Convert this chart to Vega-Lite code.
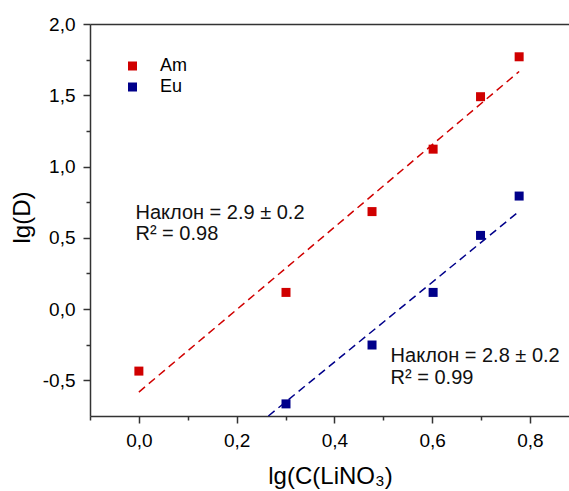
{
  "$schema": "https://vega.github.io/schema/vega-lite/v6.json",
  "width": 479,
  "height": 392,
  "autosize": {"type": "none"},
  "padding": {"left": 90, "top": 24, "right": 0, "bottom": 75},
  "config": {
    "view": {"stroke": null},
    "font": "Liberation Sans",
    "axis": {
      "grid": false,
      "domainColor": "#333333",
      "tickColor": "#333333",
      "domainWidth": 1.5,
      "tickWidth": 1.5,
      "labelFont": "Liberation Sans",
      "labelFontSize": 19,
      "labelColor": "#000000",
      "titleFont": "Liberation Sans",
      "titleColor": "#000000",
      "titleFontWeight": "normal"
    },
    "legend": {
      "labelFont": "Liberation Sans",
      "labelFontSize": 18,
      "labelColor": "#000000"
    }
  },
  "datasets": {
    "points": [
      {"series": "Am", "lgC": 0.0, "lgD": -0.435},
      {"series": "Am", "lgC": 0.301, "lgD": 0.117},
      {"series": "Am", "lgC": 0.477, "lgD": 0.684},
      {"series": "Am", "lgC": 0.602, "lgD": 1.122},
      {"series": "Am", "lgC": 0.699, "lgD": 1.49},
      {"series": "Am", "lgC": 0.778, "lgD": 1.77},
      {"series": "Eu", "lgC": 0.301, "lgD": -0.665},
      {"series": "Eu", "lgC": 0.477, "lgD": -0.252},
      {"series": "Eu", "lgC": 0.602, "lgD": 0.117},
      {"series": "Eu", "lgC": 0.699, "lgD": 0.517},
      {"series": "Eu", "lgC": 0.778, "lgD": 0.793}
    ],
    "fits": [
      {"series": "Am", "lgC": 0.0, "lgD": -0.582},
      {"series": "Am", "lgC": 0.778, "lgD": 1.667},
      {"series": "Eu", "lgC": 0.265, "lgD": -0.75},
      {"series": "Eu", "lgC": 0.778, "lgD": 0.686}
    ],
    "notes": [
      {"lgC": -0.007, "lgD": 0.629, "label": "Наклон = 2.9 ± 0.2"},
      {"lgC": -0.007, "lgD": 0.485, "label": "R² = 0.98"},
      {"lgC": 0.515, "lgD": -0.373, "label": "Наклон = 2.8 ± 0.2"},
      {"lgC": 0.515, "lgD": -0.529, "label": "R² = 0.99"}
    ]
  },
  "layer": [
    {
      "data": {"name": "points"},
      "mark": {"type": "square", "size": 81, "filled": true, "opacity": 1},
      "encoding": {
        "x": {
          "field": "lgC", "type": "quantitative",
          "scale": {"domain": [-0.1, 0.88], "nice": false, "zero": false},
          "axis": {
            "orient": "bottom",
            "values": [0, 0.2, 0.4, 0.6, 0.8],
            "labelExpr": "replace(format(datum.value, '.1f'), '.', ',')",
            "tickSize": 7,
            "labelPadding": 8,
            "title": "lg(C(LiNO₃)",
            "titleFontSize": 24,
            "titleX": 240,
            "titleY": 67,
            "titleAlign": "center",
            "titleBaseline": "alphabetic"
          }
        },
        "y": {
          "field": "lgD", "type": "quantitative",
          "scale": {"domain": [-0.75, 2.0], "nice": false, "zero": false},
          "axis": {
            "orient": "left",
            "values": [-0.5, 0, 0.5, 1, 1.5, 2],
            "labelExpr": "(datum.value < 0 ? '-' : '') + replace(format(abs(datum.value), '.1f'), '.', ',')",
            "tickSize": 7,
            "labelPadding": 8,
            "title": "lg(D)",
            "titleFontSize": 24,
            "titleAngle": -90,
            "titleX": -61,
            "titleY": 193,
            "titleAlign": "center",
            "titleBaseline": "alphabetic"
          }
        },
        "color": {
          "field": "series", "type": "nominal",
          "scale": {"domain": ["Am", "Eu"], "range": ["#d00000", "#00008a"]},
          "legend": {
            "title": null,
            "orient": "none",
            "legendX": 33.5,
            "legendY": 33,
            "padding": 0,
            "symbolType": "square",
            "symbolSize": 81,
            "symbolStrokeWidth": 0,
            "labelOffset": 18.5,
            "rowPadding": 3
          }
        }
      }
    },
    {
      "data": {"name": "fits"},
      "transform": [{"filter": "datum.series === 'Am'"}],
      "mark": {"type": "line", "strokeDash": [8, 5], "strokeWidth": 1.5, "color": "#d00000"},
      "encoding": {
        "x": {
          "field": "lgC", "type": "quantitative",
          "scale": {"domain": [-0.1, 0.88], "nice": false, "zero": false},
          "axis": {"orient": "bottom", "values": [-0.1, 0.1, 0.3, 0.5, 0.7], "labels": false, "domain": false, "tickSize": 4, "title": null}
        },
        "y": {
          "field": "lgD", "type": "quantitative",
          "scale": {"domain": [-0.75, 2.0], "nice": false, "zero": false},
          "axis": {"orient": "left", "values": [-0.25, 0.25, 0.75, 1.25, 1.75], "labels": false, "domain": false, "tickSize": 4, "title": null}
        }
      }
    },
    {
      "data": {"name": "fits"},
      "transform": [{"filter": "datum.series === 'Eu'"}],
      "mark": {"type": "line", "strokeDash": [8, 5], "strokeWidth": 1.5, "color": "#00008a"},
      "encoding": {
        "x": {
          "field": "lgC", "type": "quantitative",
          "scale": {"domain": [-0.1, 0.88], "nice": false, "zero": false},
          "axis": null
        },
        "y": {
          "field": "lgD", "type": "quantitative",
          "scale": {"domain": [-0.75, 2.0], "nice": false, "zero": false},
          "axis": null
        }
      }
    },
    {
      "data": {"name": "notes"},
      "mark": {"type": "text", "align": "left", "baseline": "alphabetic", "fontSize": 20, "font": "Liberation Sans", "color": "#111111"},
      "encoding": {
        "x": {
          "field": "lgC", "type": "quantitative",
          "scale": {"domain": [-0.1, 0.88], "nice": false, "zero": false},
          "axis": {"orient": "top", "ticks": false, "labels": false, "domain": true, "title": null}
        },
        "y": {
          "field": "lgD", "type": "quantitative",
          "scale": {"domain": [-0.75, 2.0], "nice": false, "zero": false},
          "axis": null
        },
        "text": {"field": "label"}
      }
    }
  ],
  "resolve": {"axis": {"x": "independent", "y": "independent"}}
}
